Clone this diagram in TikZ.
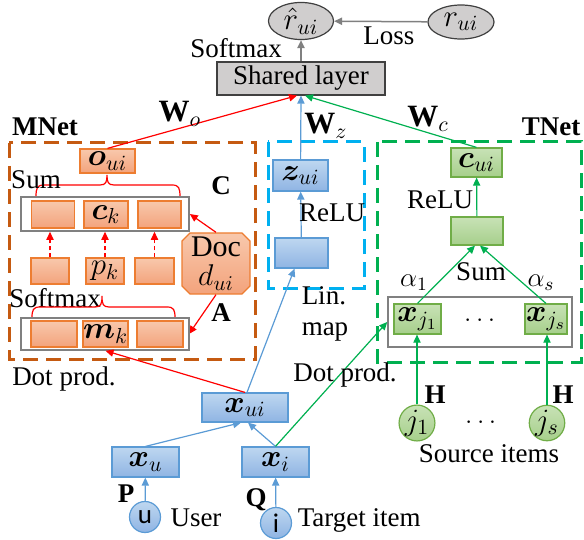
\documentclass[tikz,border=0pt]{standalone}
\usepackage{fix-cm}
\usepackage{amsmath}
\usepackage{bm}
\usepackage{fontspec}
\setmainfont{Liberation Serif}
\newfontfamily\calibri{Carlito}
\usetikzlibrary{arrows.meta,shapes.geometric,shapes.misc}

\definecolor{orgline}{RGB}{237,125,49}
\definecolor{orgtop}{RGB}{248,200,172}
\definecolor{orgbot}{RGB}{243,163,124}
\definecolor{bluline}{RGB}{91,155,213}
\definecolor{blutop}{RGB}{190,215,240}
\definecolor{blubot}{RGB}{143,180,227}
\definecolor{grnline}{RGB}{112,173,71}
\definecolor{grntop}{RGB}{200,226,182}
\definecolor{grnbot}{RGB}{166,207,139}
\definecolor{grnarr}{RGB}{0,176,80}
\definecolor{mnetcol}{RGB}{197,90,17}
\definecolor{zcol}{RGB}{0,176,240}
\definecolor{shadegray}{RGB}{208,206,206}

\tikzset{every picture/.style={line width=0.75pt}}
\tikzset{
  txt/.style={inner sep=0pt, font=\fontsize{13.5}{15}\selectfont},
  bigm/.style={font=\fontsize{15.5}{17}\selectfont},
  obox/.style={txt, bigm, draw=orgline, top color=orgtop, bottom color=orgbot, line width=0.6pt},
  bbox/.style={txt, bigm, draw=bluline, top color=blutop, bottom color=blubot, line width=0.6pt},
  gbox/.style={txt, bigm, draw=grnline, top color=grntop, bottom color=grnbot, line width=0.6pt},
  rowbox/.style={draw=gray, fill=white, line width=0.8pt, inner sep=0pt},
  graybox/.style={txt, draw=black!75, fill=shadegray, line width=0.6pt},
  ell/.style={txt, bigm, ellipse, draw=black!75, fill=shadegray, line width=0.6pt},
  bcirc/.style={txt, circle, draw=bluline, top color=blutop, bottom color=blubot, line width=0.6pt, minimum size=15.5pt},
  gcirc/.style={txt, bigm, circle, draw=grnline, top color=grntop, bottom color=grnbot, line width=0.6pt, minimum size=15.5pt},
  tip/.style={-{Triangle[length=4pt,width=3.6pt]}},
  grayarr/.style={tip, draw=black!50},
  redarr/.style={tip, draw=red, line width=0.6pt},
  bluearr/.style={tip, draw=bluline, line width=0.6pt},
  grnarrow/.style={tip, draw=grnarr, line width=0.6pt},
  framedash/.style={line width=1.5pt, dash pattern={on 7.5pt off 4pt}},
  boldlbl/.style={txt, font=\fontsize{13.5}{15}\selectfont\bfseries},
}

\begin{document}
\begin{tikzpicture}[x=0.5pt,y=0.5pt,yscale=-1,xscale=1]
\useasboundingbox (0,0) rectangle (584,540);

%Frames: MNet, z part, TNet
\draw[framedash, draw=mnetcol] (9,143) rectangle (255,359);
\draw[framedash, draw=zcol] (268,142) rectangle (364,288);
\draw[framedash, draw=grnarr] (377,142) rectangle (581,362);

%Output part
\node[ell, minimum width=32.5pt, minimum height=16.5pt] (rhat) at (301,21) {$\hat{r}_{ui}$};
\node[ell, minimum width=33pt, minimum height=17pt] (rui) at (461,22) {$r_{ui}$};
\node[graybox, minimum width=84pt, minimum height=16.5pt] (shared) at (301,78.5) {Shared layer};
\draw[grayarr] (rui) -- (rhat);
\draw[grayarr] (shared) -- (rhat);
% Text Node
\node[txt] (loss) at (389,36) {Loss};
% Text Node
\node[txt] (smaxtop) at (236,48) {Softmax};
% Text Node
\node[boldlbl] (mnet) at (45,127) {MNet};
% Text Node
\node[boldlbl] (tnet) at (551,127) {TNet};

%MNet
\node[obox, minimum width=27.5pt, minimum height=12pt] (oui) at (107.5,161) {$\bm{o}_{ui}$};
\draw[red, line width=0.6pt] (36,197) .. controls (36,188) and (37,185) .. (44,185) -- (100,185) .. controls (106,185) and (107,182) .. (107,175) .. controls (107,182) and (108,185) .. (114,185) -- (172,185) .. controls (179,185) and (180,188) .. (180,197);
% Text Node
\node[txt] (sum) at (36,180) {Sum};
% Text Node
\node[boldlbl] (clbl) at (221,186) {C};
\node[rowbox, minimum width=84pt, minimum height=17pt] (crow) at (105,214) {};
\node[obox, minimum width=21.5pt, minimum height=13.5pt] (c1) at (53,214.5) {};
\node[obox, minimum width=22pt, minimum height=13.5pt] (ck) at (106,214.5) {$\bm{c}_k$};
\node[obox, minimum width=21.5pt, minimum height=13.5pt] (c3) at (159.5,214.5) {};
\node[obox, minimum width=19pt, minimum height=13pt] (p1) at (50,271) {};
\node[obox, minimum width=19pt, minimum height=13pt] (pk) at (105,271) {$p_k$};
\node[obox, minimum width=19.5pt, minimum height=13pt] (p3) at (154.5,271) {};
\foreach \p in {p1,pk,p3}
  \draw[redarr, dash pattern={on 2pt off 1.5pt}] (\p.north) -- (\p.north |- crow.south);
\node[obox, chamfered rectangle, chamfered rectangle xsep=2pt, chamfered rectangle ysep=2pt, minimum width=34pt, minimum height=27.5pt, align=center, font=\fontsize{15}{13.5}\selectfont] (doc) at (216,263.5) {Doc\\[1pt]$d_{ui}$};
\draw[redarr] (doc.north) -- (crow.east);
\draw[redarr] (doc.south) -- (189,334);
% Text Node
\node[txt] (smax) at (55,298) {Softmax};
\draw[red, line width=0.6pt] (32,318) .. controls (32,310) and (33,307) .. (40,307) -- (95,307) .. controls (101,307) and (102,304) .. (102,296) .. controls (102,304) and (103,307) .. (109,307) -- (167,307) .. controls (174,307) and (175,310) .. (175,318);
% Text Node
\node[boldlbl] (albl) at (221,313) {A};
\node[rowbox, minimum width=84pt, minimum height=16pt] (mrow) at (105,334) {};
\node[obox, minimum width=23pt, minimum height=13pt] (m1) at (54,334) {};
\node[obox, minimum width=22.5pt, minimum height=13pt] (mk) at (105.5,334) {$\bm{m}_k$};
\node[obox, minimum width=23pt, minimum height=13pt] (m3) at (160,334) {};
% Text Node
\node[txt] (dotl) at (64,379) {Dot prod.};

%z part
\node[bbox, minimum width=27.5pt, minimum height=15.5pt] (zui) at (300.5,175.5) {$\bm{z}_{ui}$};
\node[bbox, minimum width=26.5pt, minimum height=15pt] (lin) at (301.5,253) {};
\draw[bluearr] (lin) -- (zui);
% Text Node
\node[txt] (reluz) at (332,213) {ReLU};
% Text Node
\node[txt, align=left, anchor=west, font=\fontsize{13.5}{15.5}\selectfont] (linmap) at (301,314) {Lin.\\map};

%TNet
\node[gbox, minimum width=25.5pt, minimum height=14.5pt] (cui) at (476.5,162.5) {$\bm{c}_{ui}$};
\node[gbox, minimum width=26pt, minimum height=14pt] (hid) at (477,231) {};
\draw[grnarrow] (hid) -- (cui);
% Text Node
\node[txt] (relut) at (440,200) {ReLU};
% Text Node
\node[txt] (sumt) at (481,272) {Sum};
% Text Node
\node[txt] (a1) at (414,283) {$\alpha_1$};
% Text Node
\node[txt] (as) at (541,283) {$\alpha_s$};
\node[rowbox, minimum width=92pt, minimum height=25pt] (jrow) at (480,322) {};
\node[gbox, minimum width=23.5pt, minimum height=15pt] (xj1) at (417.5,319) {$\bm{x}_{j_1}$};
\node[gbox, minimum width=21pt, minimum height=15pt] (xjs) at (546,319) {$\bm{x}_{j_s}$};
% Text Node
\node[txt] (jdots) at (482,320) {$\dots$};
\draw[grnarrow] (xj1.north) -- ([xshift=-1pt]hid.south);
\draw[grnarrow] (xjs.north) -- ([xshift=1.5pt]hid.south);

%Inputs
\node[bbox, minimum width=43pt, minimum height=14.5pt] (xui) at (245,407.5) {$\bm{x}_{ui}$};
\node[bbox, minimum width=33.5pt, minimum height=15pt] (xu) at (145.5,462) {$\bm{x}_u$};
\node[bbox, minimum width=33.5pt, minimum height=15pt] (xi) at (275.5,462) {$\bm{x}_i$};
\draw[bluearr] (xu.north) -- ([xshift=-2pt]xui.south);
\draw[bluearr] (xi.north) -- ([xshift=1.5pt]xui.south);
\draw[redarr] (xui.north) -- (mk.south |- mrow.south);
\draw[bluearr] ([xshift=1pt]xui.north) -- ([xshift=-3.5pt]lin.south);
\draw[grnarrow] (xi.north) -- (jrow.west);
% Text Node
\node[txt] (dotr) at (345,375) {Dot prod.};
\node[bcirc] (user) at (145,517) {\calibri u};
\node[bcirc] (item) at (276,523) {\calibri i};
\draw[bluearr] (user) -- (xu);
\draw[bluearr] (item) -- (xi);
% Text Node
\node[boldlbl] (plbl) at (126,494) {P};
% Text Node
\node[boldlbl] (qlbl) at (256,500) {Q};
% Text Node
\node[txt] (userlbl) at (196,518) {User};
% Text Node
\node[txt, anchor=west] (itemlbl) at (297,520) {Target item};
\node[gcirc] (j1) at (417,423) {$j_1$};
\node[gcirc] (js) at (547,423) {$j_s$};
\draw[grnarrow] (j1) -- (j1 |- xj1.south);
\draw[grnarrow] (js) -- (js |- xjs.south);
% Text Node
\node[boldlbl] (h1) at (435,395) {H};
% Text Node
\node[boldlbl] (hs) at (563,395) {H};
% Text Node
\node[txt] (sdots) at (483,422) {$\dots$};
% Text Node
\node[txt] (srclbl) at (489,454) {Source items};

%To shared layer
\draw[redarr] (oui.north) -- ([xshift=-2pt]shared.south);
\draw[bluearr] (zui) -- (shared.south);
\draw[grnarrow] (cui.north) -- ([xshift=2pt]shared.south);
% Text Node
\node[txt, bigm] (wo) at (180,114) {$\mathbf{W}_o$};
% Text Node
\node[txt, bigm] (wz) at (326,126) {$\mathbf{W}_z$};
% Text Node
\node[txt, bigm] (wc) at (428,119) {$\mathbf{W}_c$};

\end{tikzpicture}
\end{document}
